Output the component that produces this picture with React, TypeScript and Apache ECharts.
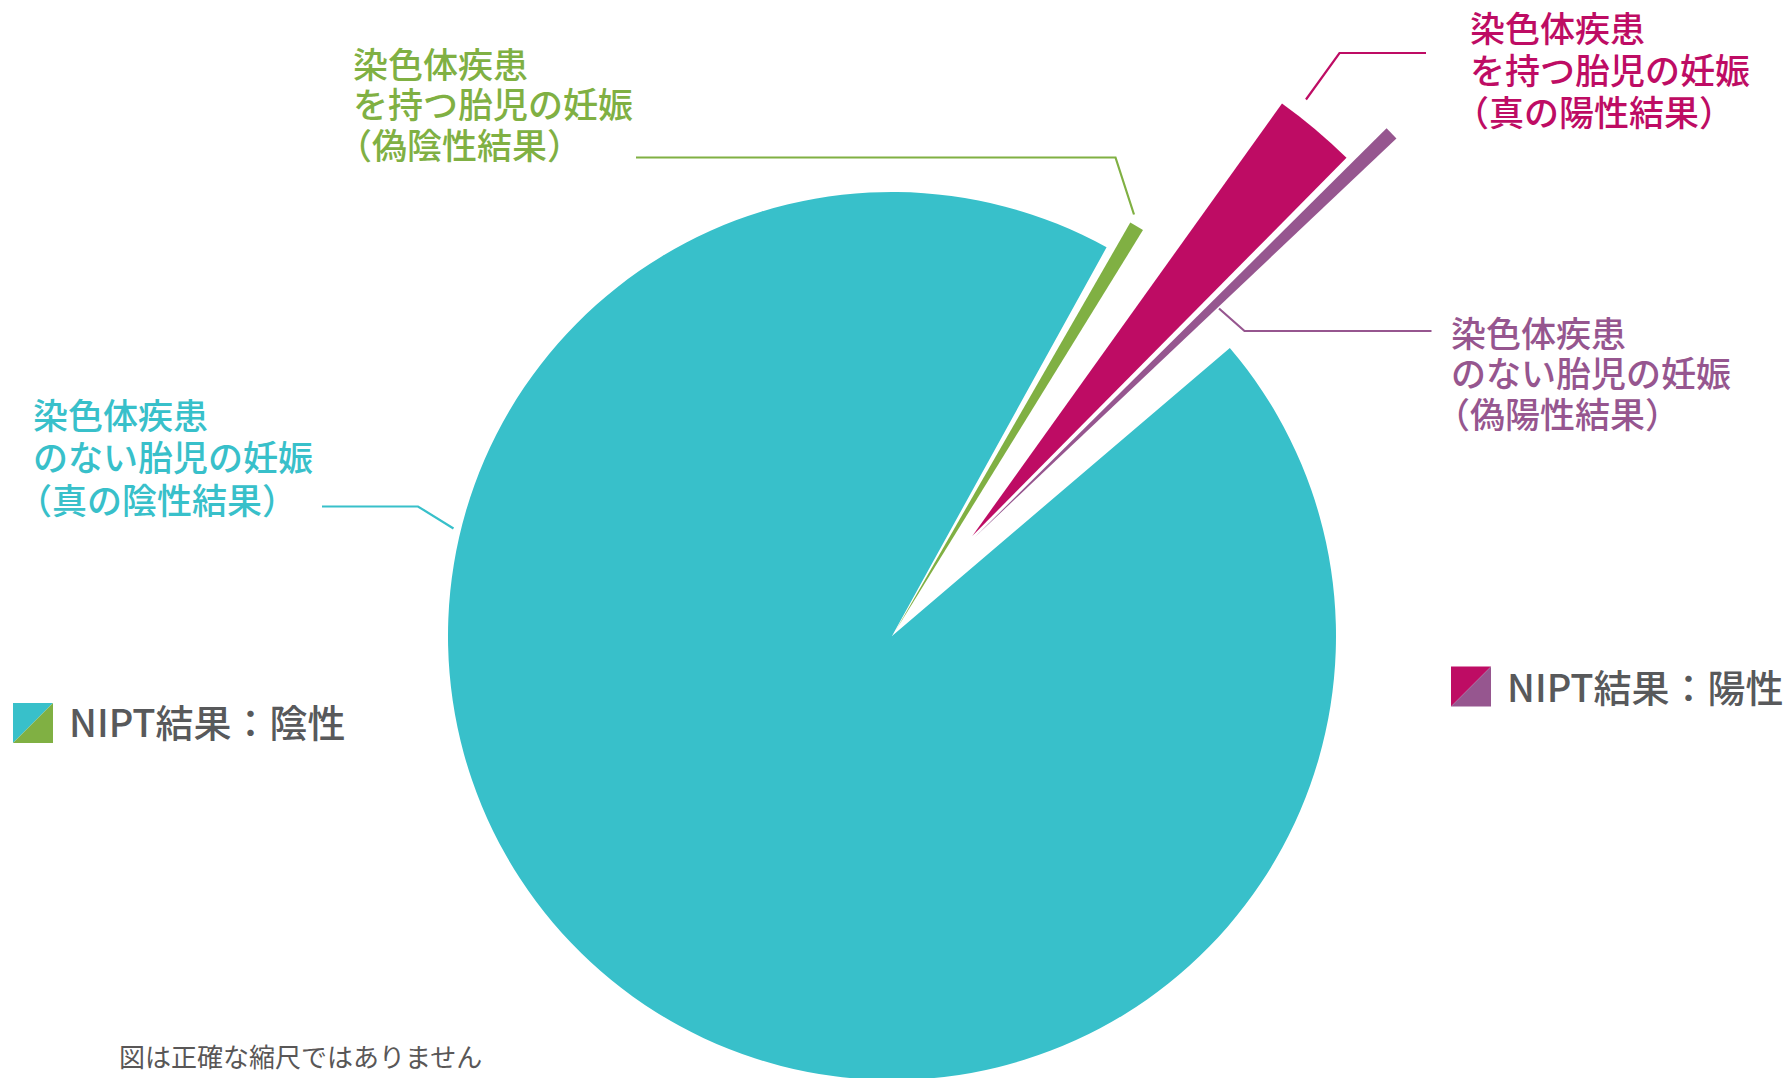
import { useEffect, useRef } from "react";
import * as echarts from "echarts";

// ---- data ----
const categories = [
  "染色体疾患のない胎児の妊娠（真の陰性結果）",
  "染色体疾患を持つ胎児の妊娠（偽陰性結果）",
  "染色体疾患を持つ胎児の妊娠（真の陽性結果）",
  "染色体疾患のない胎児の妊娠（偽陽性結果）",
];
// drawn share of the circle (degrees; the illustration is not to scale)
const sliceShares = [339.36, 1.8, 9.1, 1.4];
const sliceLabelLines = [
  ["染色体疾患", "のない胎児の妊娠", "（真の陰性結果）"],
  ["染色体疾患", "を持つ胎児の妊娠", "（偽陰性結果）"],
  ["染色体疾患", "を持つ胎児の妊娠", "（真の陽性結果）"],
  ["染色体疾患", "のない胎児の妊娠", "（偽陽性結果）"],
];
const legendLabels = ["NIPT結果：陰性", "NIPT結果：陽性"];
const footnote = "図は正確な縮尺ではありません";

// ---- layout / style ----
const COLORS = ["#38c0ca", "#80b043", "#be0c64", "#96568f"];
const GAPS_AFTER = [1.0, 3.9, 0.5, 2.94];
const START_FROM_NORTH = 49.54;
const CENTERS: [number, number][] = [
  [892, 636],
  [896, 630],
  [972.3, 536],
  [975, 537],
];
const RADII = [444, 470, 532, 580];
// [left x, first line centre y, line spacing]
const LABEL_POS: [number, number, number][] = [
  [33, 413, 42.5],
  [353, 62, 40.5],
  [1470, 26, 42],
  [1451, 331, 40.5],
];
const PAREN_SHIFT = 16;
const LEADERS: number[][][] = [
  [[322, 506.5], [418, 506.5], [453.5, 528.5]],
  [[636, 157.5], [1115.5, 157.5], [1134, 214.5]],
  [[1306, 99.5], [1339.5, 53], [1426, 53]],
  [[1219, 308.5], [1244.5, 331], [1431.5, 331]],
];
const FONT = '"Noto Sans CJK JP", "Noto Sans", sans-serif';

export default function App() {
  const ref = useRef<HTMLDivElement>(null);
  useEffect(() => {
    if (!ref.current) return;
    const chart = echarts.init(ref.current, undefined, { renderer: "svg" });

    const series = sliceShares.map((_, i) => {
      const data: any[] = [];
      sliceShares.forEach((v, j) => {
        data.push({
          name: categories[j],
          value: v,
          itemStyle: { color: j === i ? COLORS[j] : "rgba(0,0,0,0)", borderWidth: 0 },
        });
        data.push({
          name: "gap" + j,
          value: GAPS_AFTER[j],
          itemStyle: { color: "rgba(0,0,0,0)", borderWidth: 0 },
        });
      });
      return {
        type: "pie",
        center: CENTERS[i],
        radius: [0, RADII[i]],
        startAngle: 90 - START_FROM_NORTH,
        clockwise: true,
        minAngle: 0,
        silent: true,
        avoidLabelOverlap: false,
        label: { show: false },
        labelLine: { show: false },
        emphasis: { disabled: true },
        z: 2 + i,
        data,
      };
    });

    const graphics: any[] = [];
    sliceLabelLines.forEach((lines, i) => {
      graphics.push({
        type: "polyline",
        shape: { points: LEADERS[i] },
        style: { stroke: COLORS[i], lineWidth: 2.2, fill: "none" },
        z: 10,
      });
      const [lx, ly, sp] = LABEL_POS[i];
      lines.forEach((t, k) => {
        graphics.push({
          type: "text",
          x: lx - (t.startsWith("（") ? PAREN_SHIFT : 0),
          y: ly + k * sp,
          style: {
            text: t,
            fill: COLORS[i],
            fontSize: 35,
            fontWeight: 500,
            fontFamily: FONT,
            align: "left",
            verticalAlign: "middle",
          },
          z: 10,
        });
      });
    });

    // legends
    const legendDefs = [
      { x: 13, y: 703, c1: COLORS[0], c2: COLORS[1], tx: 69, ty: 720.5, text: legendLabels[0] },
      { x: 1451, y: 666.5, c1: COLORS[2], c2: COLORS[3], tx: 1507, ty: 685.5, text: legendLabels[1] },
    ];
    legendDefs.forEach((l) => {
      const s = 40;
      graphics.push({
        type: "polygon",
        shape: { points: [[l.x, l.y], [l.x + s, l.y], [l.x, l.y + s]] },
        style: { fill: l.c1 },
        z: 10,
      });
      graphics.push({
        type: "polygon",
        shape: { points: [[l.x + s, l.y], [l.x + s, l.y + s], [l.x, l.y + s]] },
        style: { fill: l.c2 },
        z: 10,
      });
      graphics.push({
        type: "text",
        x: l.tx,
        y: l.ty,
        style: {
          text: l.text,
          fill: "#58595b",
          fontSize: 38,
          fontWeight: 500,
          fontFamily: FONT,
          align: "left",
          verticalAlign: "middle",
        },
        z: 10,
      });
    });

    graphics.push({
      type: "text",
      x: 119,
      y: 1055.5,
      style: {
        text: footnote,
        fill: "#595757",
        fontSize: 26,
        fontFamily: FONT,
        align: "left",
        verticalAlign: "middle",
      },
      z: 10,
    });

    chart.setOption({
      animation: false,
      backgroundColor: "#ffffff",
      series,
      graphic: { elements: graphics },
    });

    return () => chart.dispose();
  }, []);

  return (
    <div
      ref={ref}
      style={{ position: "fixed", left: 0, top: 0, width: 1791, height: 1078, background: "#fff" }}
    />
  );
}
